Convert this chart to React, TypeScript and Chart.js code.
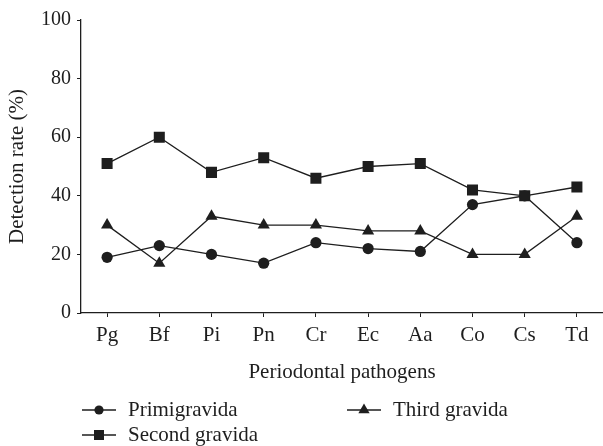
import React, { useEffect, useRef } from "react";
import { Chart, registerables } from "chart.js";

Chart.register(...registerables);

const categories = ["Pg", "Bf", "Pi", "Pn", "Cr", "Ec", "Aa", "Co", "Cs", "Td"];
const primigravida = [19, 23, 20, 17, 24, 22, 21, 37, 40, 24];
const secondGravida = [51, 60, 48, 53, 46, 50, 51, 42, 40, 43];
const thirdGravida = [30, 17, 33, 30, 30, 28, 28, 20, 20, 33];
const yTicks = [0, 20, 40, 60, 80, 100];
const seriesNames = ["Primigravida", "Second gravida", "Third gravida"];

const FONT = "'Liberation Serif', 'DejaVu Serif', serif";
const INK = "#1e1e1e";

const legendPlugin = {
  id: "customLegend",
  afterDraw(chart: any) {
    const ctx = chart.ctx as CanvasRenderingContext2D;
    const items = [
      { ds: 0, x: 82, y: 410 },
      { ds: 2, x: 347, y: 410 },
      { ds: 1, x: 82, y: 435 },
    ];
    ctx.save();
    for (const it of items) {
      const ds = chart.data.datasets[it.ds];
      const lineLen = 34;
      ctx.strokeStyle = INK;
      ctx.lineWidth = 1.3;
      ctx.beginPath();
      ctx.moveTo(it.x, it.y);
      ctx.lineTo(it.x + lineLen, it.y);
      ctx.stroke();
      const cx = it.x + lineLen / 2;
      const cy = it.y;
      ctx.fillStyle = INK;
      ctx.beginPath();
      if (ds.pointStyle === "circle") {
        ctx.arc(cx, cy, 4.6, 0, Math.PI * 2);
      } else if (ds.pointStyle === "rect") {
        ctx.rect(cx - 5, cy - 5, 10, 10);
      } else {
        const r = 6.5;
        ctx.moveTo(cx, cy - r);
        ctx.lineTo(cx + r * 0.866, cy + r * 0.5);
        ctx.lineTo(cx - r * 0.866, cy + r * 0.5);
        ctx.closePath();
      }
      ctx.fill();
      ctx.font = `21px ${FONT}`;
      ctx.textBaseline = "middle";
      ctx.textAlign = "left";
      ctx.fillText(ds.label, it.x + 46, it.y);
    }
    ctx.restore();
  },
};

export default function App() {
  const ref = useRef<HTMLCanvasElement>(null);
  useEffect(() => {
    if (!ref.current) return;
    const common = {
      borderColor: INK,
      backgroundColor: INK,
      pointBackgroundColor: INK,
      pointBorderColor: INK,
      borderWidth: 1.3,
      pointBorderWidth: 0,
      tension: 0,
      fill: false,
    };
    const chart = new Chart(ref.current, {
      type: "line",
      data: {
        labels: categories,
        datasets: [
          { ...common, label: seriesNames[0], data: primigravida, pointStyle: "circle", pointRadius: 5.6 },
          { ...common, label: seriesNames[1], data: secondGravida, pointStyle: "rect", pointRadius: 7.8 },
          { ...common, label: seriesNames[2], data: thirdGravida, pointStyle: "triangle", pointRadius: 7 },
        ],
      },
      options: {
        animation: false,
        responsive: false,
        events: [],
        layout: { autoPadding: false, padding: { left: 0, right: -3, top: 20, bottom: 53 } },
        plugins: { legend: { display: false }, tooltip: { enabled: false } },
        scales: {
          x: {
            type: "category",
            offset: true,
            grid: { display: true, drawOnChartArea: false, drawTicks: true, tickLength: 4, color: INK, offset: false },
            border: { display: true, color: INK, width: 1.3 },
            ticks: { color: INK, font: { family: FONT, size: 21 }, padding: 6, maxRotation: 0, autoSkip: false },
            title: { display: true, text: "Periodontal pathogens", color: INK, font: { family: FONT, size: 21 }, padding: { top: 0, bottom: 8 } },
            afterFit(scale: any) {
              scale.height = 80;
              scale.paddingRight = 0;
              scale.paddingLeft = 0;
            },
          },
          y: {
            min: 0,
            max: 100,
            afterBuildTicks(scale: any) { scale.ticks = yTicks.map((v) => ({ value: v })); },
            grid: { display: true, drawOnChartArea: false, drawTicks: true, tickLength: 4, color: INK },
            border: { display: true, color: INK, width: 1.3 },
            ticks: { color: INK, font: { family: FONT, size: 20 }, padding: 6 },
            title: { display: true, text: "Detection rate (%)", color: INK, font: { family: FONT, size: 21 }, padding: { top: 5, bottom: 0 } },
            afterFit(scale: any) { scale.width = 81; },
          },
        },
      },
      plugins: [legendPlugin],
    } as any);
    return () => chart.destroy();
  }, []);
  return (
    <div style={{ position: "fixed", left: 0, top: 0, width: 603, height: 446, background: "#fff" }}>
      <canvas ref={ref} width={603} height={446} style={{ display: "block" }} />
    </div>
  );
}
